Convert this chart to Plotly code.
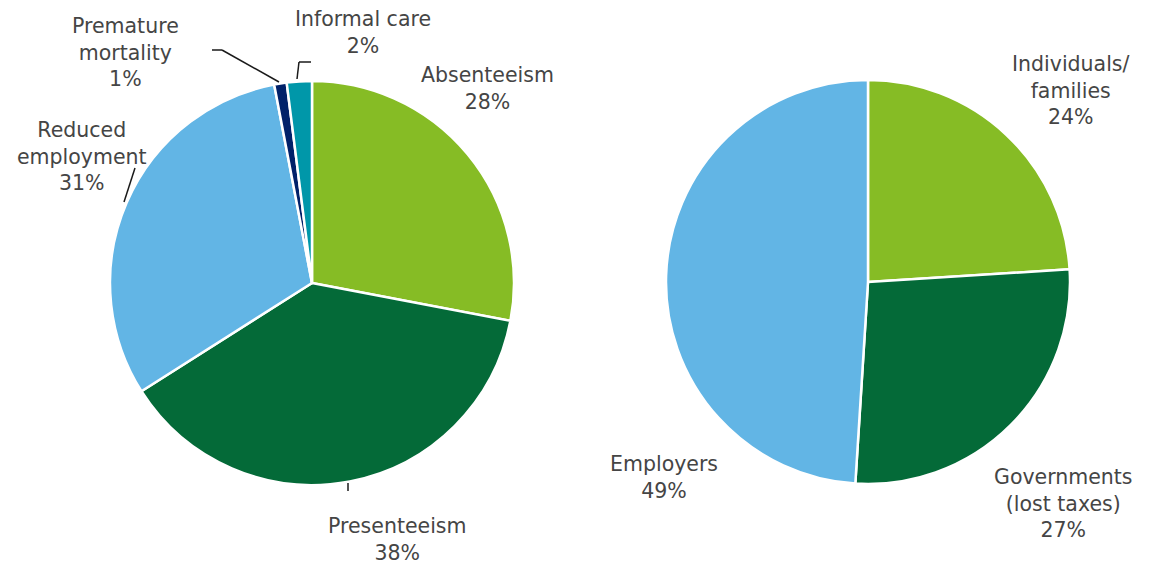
import plotly.graph_objects as go

W, H = 1155, 567

# Data
cost_categories = ["Absenteeism", "Presenteeism", "Reduced employment", "Premature mortality", "Informal care"]
cost_shares = [28, 38, 31, 1, 2]
cost_colors = ["#86BC25", "#046A38", "#62B5E5", "#012169", "#0097A9"]

bearer_categories = ["Individuals/ families", "Governments (lost taxes)", "Employers"]
bearer_shares = [24, 27, 49]
bearer_colors = ["#86BC25", "#046A38", "#62B5E5"]

left_labels = ["Absenteeism<br>28%", "Presenteeism<br>38%", "Reduced<br>employment<br>31%",
               "Premature<br>mortality<br>1%", "Informal care<br>2%"]
right_labels = ["Individuals/<br>families<br>24%", "Governments<br>(lost taxes)<br>27%", "Employers<br>49%"]

def px(x):
    return x / W

def py(y):
    return 1 - y / H

def dom(cx, cy, r):
    return dict(x=[px(cx - r), px(cx + r)], y=[py(cy + r), py(cy - r)])

fig = go.Figure()
fig.add_trace(go.Pie(
    labels=cost_categories, values=cost_shares, sort=False, direction="clockwise", rotation=0,
    marker=dict(colors=cost_colors, line=dict(color="white", width=2.5)),
    textinfo="none", hoverinfo="label+percent", domain=dom(312, 283, 202), showlegend=False,
))
fig.add_trace(go.Pie(
    labels=bearer_categories, values=bearer_shares, sort=False, direction="clockwise", rotation=0,
    marker=dict(colors=bearer_colors, line=dict(color="white", width=2.5)),
    textinfo="none", hoverinfo="label+percent", domain=dom(868, 282, 202), showlegend=False,
))

label_pos = [
    (left_labels[0], 487, 89),
    (left_labels[1], 397, 539),
    (left_labels[2], 82, 157),
    (left_labels[3], 125, 53),
    (left_labels[4], 363, 33),
    (right_labels[0], 1071, 90),
    (right_labels[1], 1063, 503),
    (right_labels[2], 664, 477),
]
for text, x, y in label_pos:
    fig.add_annotation(x=px(x), y=py(y), xref="paper", yref="paper", text=text, showarrow=False,
                       xanchor="center", yanchor="middle",
                       font=dict(family="DejaVu Sans, Verdana, sans-serif", size=20.5, color="#454545"))

# leader lines
line_style = dict(color="#1a1a1a", width=1.5)
leaders = [
    [(279, 82), (222, 50), (212, 50)],
    [(297, 79), (299, 62), (311, 62)],
    [(124, 202), (135, 168)],
    [(348, 483), (348, 491)],
]
for pts in leaders:
    for (x0, y0), (x1, y1) in zip(pts[:-1], pts[1:]):
        fig.add_shape(type="line", xref="paper", yref="paper",
                      x0=px(x0), y0=py(y0), x1=px(x1), y1=py(y1), line=line_style)

fig.update_layout(width=W, height=H, margin=dict(l=0, r=0, t=0, b=0),
                  paper_bgcolor="white", plot_bgcolor="white")
fig.write_html("out.html", config={"displayModeBar": False},
               post_script="document.body.style.margin='0px';document.body.style.overflow='hidden';")
